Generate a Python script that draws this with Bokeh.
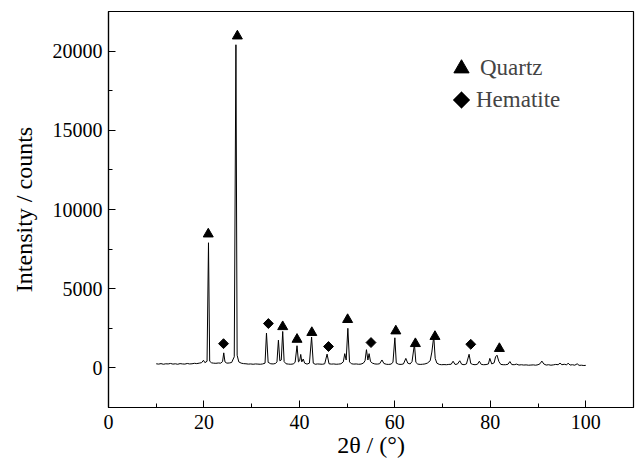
from bokeh.plotting import figure
from bokeh.models import Range1d, SingleIntervalTicker, Legend, LegendItem, PolyAnnotation
from bokeh.embed import file_html
from bokeh.resources import INLINE

# XRD trace (2theta in degrees, intensity in counts)
two_theta = [10.0, 10.5, 11.0, 11.5, 12.0, 12.5, 13.0, 13.5, 14.0, 14.5, 15.0, 15.5, 16.0, 16.5,
             17.0, 17.5, 18.0, 18.5, 19.0, 19.5, 19.9, 20.2, 20.65, 20.95, 21.2, 21.6, 22.0, 22.5,
             23.0, 23.5, 23.9, 24.15, 24.4, 24.8, 25.3, 25.8, 26.35, 26.7, 26.95, 27.3, 27.8, 28.3,
             28.8, 29.3, 29.8, 30.3, 30.8, 31.3, 31.8, 32.3, 32.8, 33.1, 33.45, 34.0, 34.5, 35.0,
             35.3, 35.6, 35.9, 36.2, 36.5, 36.8, 37.2, 37.7, 38.2, 38.7, 39.1, 39.5, 39.8, 40.05,
             40.28, 40.5, 40.8, 41.1, 41.6, 42.1, 42.55, 42.9, 43.3, 43.8, 44.3, 44.8, 45.3, 45.8,
             46.2, 46.7, 47.2, 47.7, 48.2, 48.7, 49.2, 49.5, 49.8, 50.15, 50.5, 50.9, 51.4, 51.9,
             52.4, 52.9, 53.4, 53.75, 54.05, 54.35, 54.6, 54.9, 55.3, 55.8, 56.3, 56.8, 57.3, 57.7,
             58.2, 58.7, 59.2, 59.6, 60.0, 60.3, 60.8, 61.3, 61.8, 62.3, 62.7, 63.2, 63.6, 64.1,
             64.4, 64.8, 65.3, 65.8, 66.3, 66.8, 67.4, 67.75, 68.15, 68.45, 68.8, 69.3, 69.8, 70.3,
             70.8, 71.3, 71.8, 72.2, 72.6, 73.1, 73.6, 74.0, 74.5, 75.0, 75.55, 75.9, 76.3, 76.8,
             77.3, 77.7, 78.1, 78.6, 79.1, 79.6, 79.9, 80.3, 80.8, 81.1, 81.4, 81.8, 82.2, 82.7,
             83.2, 83.7, 84.1, 84.5, 85.0, 85.5, 86.0, 86.5, 87.0, 87.5, 88.0, 88.5, 89.0, 89.5,
             90.0, 90.4, 90.8, 91.2, 91.7, 92.2, 92.7, 93.2, 93.7, 94.2, 94.6, 95.0, 95.5, 96.0,
             96.3, 96.7, 97.2, 97.7, 98.2, 98.6, 99.1, 99.6, 100.0]
counts = [260, 240, 270, 230, 260, 250, 280, 240, 260, 230, 270, 250, 240, 280,
          250, 260, 290, 270, 300, 330, 480, 330, 420, 7900, 420, 320, 300, 290,
          310, 300, 400, 950, 380, 300, 310, 340, 700, 20400, 800, 380, 300, 270,
          260, 240, 250, 230, 250, 240, 230, 250, 300, 2200, 350, 260, 250, 280,
          380, 1750, 450, 500, 2300, 400, 260, 240, 230, 250, 350, 1400, 380, 450,
          850, 380, 560, 300, 240, 300, 1950, 300, 230, 250, 240, 230, 260, 870,
          260, 240, 250, 230, 240, 260, 380, 900, 500, 2500, 380, 260, 240, 250,
          230, 240, 300, 450, 1150, 500, 900, 400, 300, 250, 240, 260, 500, 280,
          230, 220, 240, 350, 1900, 300, 230, 220, 250, 600, 300, 250, 400, 1500,
          350, 240, 220, 230, 250, 300, 450, 1000, 2000, 600, 300, 220, 200, 210,
          200, 220, 230, 420, 220, 240, 450, 230, 200, 250, 860, 280, 220, 200,
          230, 420, 220, 200, 210, 250, 600, 250, 320, 700, 800, 400, 220, 200,
          200, 230, 400, 210, 200, 240, 180, 200, 180, 190, 170, 180, 190, 170,
          200, 260, 430, 250, 180, 200, 170, 190, 220, 200, 300, 200, 230, 190,
          300, 180, 200, 170, 260, 160, 170, 150, 160]

# Phase markers
quartz_x = [20.9, 27.0, 36.5, 39.5, 42.6, 50.1, 60.2, 64.3, 68.4, 81.9]
quartz_y = [8450, 20950, 2600, 1800, 2230, 3050, 2330, 1530, 1980, 1220]
hematite_x = [24.1, 33.5, 46.1, 55.0, 75.9]
hematite_y = [1530, 2800, 1350, 1600, 1490]

FONT = "Liberation Serif"

p = figure(width=636, height=466, output_backend="svg", toolbar_location=None,
           x_range=Range1d(0, 110), y_range=Range1d(-2500, 22500),
           min_border_left=108, min_border_right=3, min_border_top=11, min_border_bottom=59)

p.line(two_theta, counts, line_color="black", line_width=1)
r_q = p.scatter(quartz_x, quartz_y, marker="triangle", size=10, color="black")
r_h = p.scatter(hematite_x, hematite_y, marker="square", angle=45, angle_units="deg",
                size=7, color="black")

p.xgrid.visible = False
p.ygrid.visible = False
p.outline_line_color = "black"
p.outline_line_width = 1.2

p.xaxis.ticker = SingleIntervalTicker(interval=20, num_minor_ticks=2)
p.yaxis.ticker = SingleIntervalTicker(interval=5000, num_minor_ticks=2)
p.xaxis.axis_label = "2θ / (°)"
p.yaxis.axis_label = "Intensity / counts"

for ax in (p.xaxis, p.yaxis):
    ax.axis_line_color = "black"
    ax.axis_line_width = 1.2
    ax.major_tick_in = 7
    ax.major_tick_out = 0
    ax.minor_tick_in = 4
    ax.minor_tick_out = 0
    ax.major_tick_line_color = "black"
    ax.minor_tick_line_color = "black"
    ax.major_label_text_font = FONT
    ax.major_label_text_font_size = "20px"
    ax.major_label_text_color = "black"
    ax.axis_label_text_font = FONT
    ax.axis_label_text_font_size = "24px"
    ax.axis_label_text_font_style = "normal"
    ax.axis_label_text_color = "black"

p.xaxis.major_label_standoff = 7
p.xaxis.axis_label_standoff = 0
p.yaxis.major_label_standoff = 6
p.yaxis.axis_label_standoff = 13

common = dict(padding=0, margin=0, spacing=0, label_standoff=0,
              border_line_color=None, background_fill_alpha=0,
              label_text_font=FONT, label_text_font_size="23px")
# legend key for hematite: the legend cannot rotate a square, so the key box is left
# empty and a diamond outline is drawn in screen units at that spot
r_h_key = p.scatter(x=[], y=[], marker="square", fill_alpha=0, line_alpha=0)
leg1 = Legend(items=[LegendItem(label="Quartz", renderers=[r_q])],
              location=(334, 320), glyph_width=38, glyph_height=38, **common)
leg2 = Legend(items=[LegendItem(label="Hematite", renderers=[r_h_key])],
              location=(338, 292), glyph_width=30, glyph_height=30, **common)
p.add_layout(leg1)
p.add_layout(leg2)
p.add_layout(PolyAnnotation(xs=[353, 361.5, 353, 344.5], ys=[316, 307.5, 299, 307.5],
                            xs_units="screen", ys_units="screen",
                            fill_color="black", fill_alpha=1, line_color="black"))

open("out.html", "w").write(file_html(p, INLINE))
